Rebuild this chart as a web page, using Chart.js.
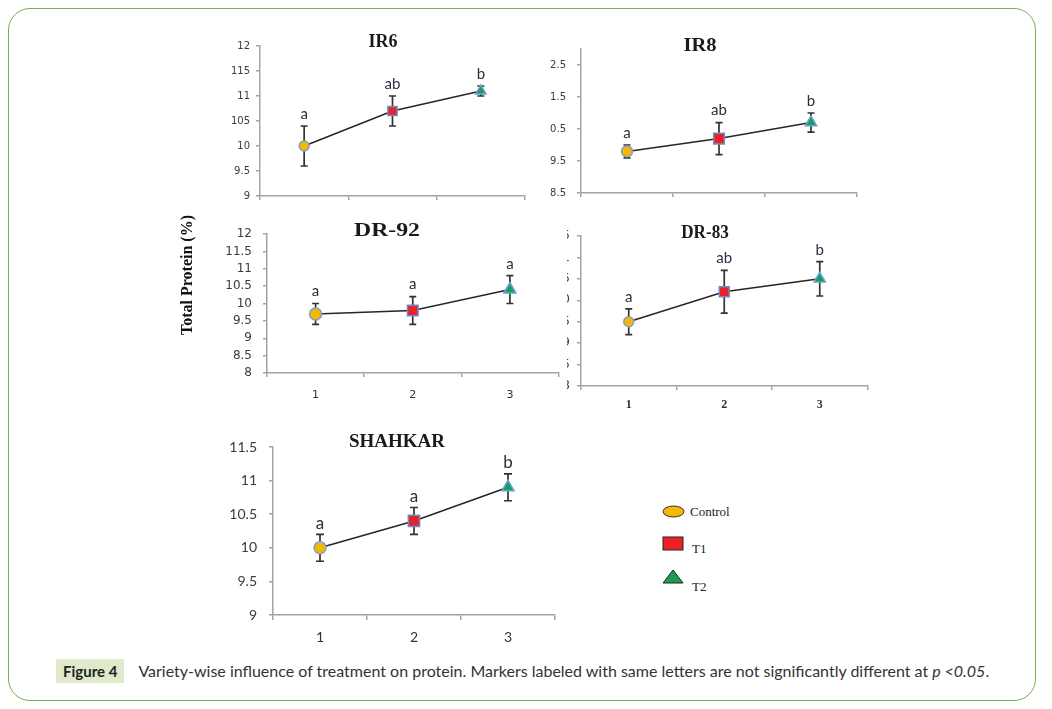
<!DOCTYPE html>
<html>
<head>
<meta charset="utf-8">
<script src="https://cdn.jsdelivr.net/npm/chart.js@4.4.1/dist/chart.umd.min.js"></script>
<style>
  body { margin: 0; background: #fff; width: 1052px; height: 709px; position: relative; overflow: hidden; }
  .frame { position: absolute; left: 8px; top: 8px; width: 1028px; height: 693px; box-sizing: border-box;
           border: 1.5px solid #79b04a; border-radius: 22px; }
  canvas { position: absolute; }
  #dr83wrap { position: absolute; left: 567px; top: 215px; width: 313px; height: 205px; overflow: hidden; }
  #legend { position: absolute; left: 655px; top: 495px; }
  .caption { position: absolute; left: 56px; top: 659px; height: 24px; line-height: 24px; white-space: nowrap;
             font-family: Lato, "Open Sans", sans-serif; font-size: 16px; color: #333; }
  .caption b { display: inline-block; background: #dfeacb; padding: 0 7px; margin-right: 14px; color: #222; font-size: 15px; }
</style>
</head>
<body>
<div class="frame"></div>
<canvas id="ir6" width="340" height="190" style="left:200px;top:20px"></canvas>
<canvas id="ir8" width="345" height="190" style="left:521px;top:20px"></canvas>
<canvas id="dr92" width="397" height="200" style="left:170px;top:210px"></canvas>
<div id="dr83wrap"><canvas id="dr83" width="360" height="205" style="left:-47px;top:0px"></canvas></div>
<canvas id="shahkar" width="360" height="225" style="left:205px;top:425px"></canvas>

<svg id="legend" width="110" height="105">
  <ellipse cx="18.5" cy="16.5" rx="10.5" ry="5.5" fill="#f5b800" stroke="#333" stroke-width="1"/>
  <text x="35" y="21" font-family="Liberation Serif, serif" font-size="13" fill="#222">Control</text>
  <rect x="8" y="42" width="20" height="13" fill="#ec2128" stroke="#222" stroke-width="1"/>
  <text x="37" y="58" font-family="Liberation Serif, serif" font-size="13" fill="#222">T1</text>
  <polygon points="18,75 28,88 8,88" fill="#1c9e4e" stroke="#222" stroke-width="1"/>
  <text x="37" y="96" font-family="Liberation Serif, serif" font-size="13" fill="#222">T2</text>
</svg>

<div class="caption"><b>Figure 4</b>Variety-wise influence of treatment on protein. Markers labeled with same letters are not significantly different at <i>p &lt;0.05</i>.</div>

<script>
// categories on the x axis (Control, T1, T2)
const categories = ['1', '2', '3'];

// IR6
const ir6Means = [10.0, 10.7, 11.1];
const ir6Errors = [0.4, 0.3, 0.1];
const ir6Letters = ['a', 'ab', 'b'];
const ir6TickValues = [9, 9.5, 10, 10.5, 11, 11.5, 12];
const ir6TickLabels = ['9', '9.5', '10', '105', '11', '115', '12'];

// IR8
const ir8Means = [9.8, 10.2, 10.7];
const ir8Errors = [0.2, 0.5, 0.3];
const ir8Letters = ['a', 'ab', 'b'];
const ir8TickValues = [8.5, 9.5, 10.5, 11.5, 12.5];
const ir8TickLabels = ['8.5', '9.5', '0.5', '1.5', '2.5'];

// DR-92
const dr92Means = [9.7, 9.8, 10.4];
const dr92Errors = [0.3, 0.4, 0.4];
const dr92Letters = ['a', 'a', 'a'];
const dr92TickValues = [8, 8.5, 9, 9.5, 10, 10.5, 11, 11.5, 12];
const dr92TickLabels = ['8', '8.5', '9', '9.5', '10', '10.5', '11', '11.5', '12'];

// DR-83
const dr83Means = [9.5, 10.2, 10.5];
const dr83Errors = [0.3, 0.5, 0.4];
const dr83Letters = ['a', 'ab', 'b'];
const dr83TickValues = [8, 8.5, 9, 9.5, 10, 10.5, 11, 11.5];
const dr83TickLabels = ['8', '8.5', '9', '9.5', '10', '10.5', '11', '11.5'];

// SHAHKAR
const shahkarMeans = [10.0, 10.4, 10.9];
const shahkarErrors = [0.2, 0.2, 0.2];
const shahkarLetters = ['a', 'a', 'b'];
const shahkarTickValues = [9, 9.5, 10, 10.5, 11, 11.5];
const shahkarTickLabels = ['9', '9.5', '10', '10.5', '11', '11.5'];

const axisColor = '#a3a3a3';
const markerStyles = ['circle', 'rect', 'triangle'];
const markerFills = ['#f5b800', '#e8212b', '#12a05a'];
const markerBorders = ['#7f9fcc', '#6f8cc4', '#6d9fd0'];

// error bars, significance letters and the panel titles
const panelExtras = {
  id: 'panelExtras',
  beforeDatasetsDraw(chart, args, opts) {
    const ds = chart.data.datasets[0];
    const meta = chart.getDatasetMeta(0);
    const y = chart.scales.y;
    const ctx = chart.ctx;
    ctx.save();
    ctx.strokeStyle = '#333';
    ctx.lineWidth = 1.7;
    ds.data.forEach((m, i) => {
      const px = meta.data[i].x;
      const top = y.getPixelForValue(m + ds.errors[i]);
      const bot = y.getPixelForValue(m - ds.errors[i]);
      const c = opts.capW / 2;
      ctx.beginPath();
      ctx.moveTo(px, top); ctx.lineTo(px, bot);
      ctx.moveTo(px - c, top); ctx.lineTo(px + c, top);
      ctx.moveTo(px - c, bot); ctx.lineTo(px + c, bot);
      ctx.stroke();
    });
    ctx.restore();
  },
  afterDatasetsDraw(chart, args, opts) {
    const ds = chart.data.datasets[0];
    const meta = chart.getDatasetMeta(0);
    const y = chart.scales.y;
    const ctx = chart.ctx;
    ctx.save();
    ctx.fillStyle = '#283040';
    ctx.font = opts.letterFont;
    ctx.textAlign = 'center';
    ctx.textBaseline = 'middle';
    ds.letters.forEach((t, i) => {
      const top = y.getPixelForValue(ds.data[i] + ds.errors[i]);
      ctx.fillText(t, meta.data[i].x, top - opts.letterGap);
    });
    // title
    ctx.fillStyle = '#1a1a1a';
    ctx.font = opts.titleFont;
    ctx.translate(opts.titleX, opts.titleY);
    ctx.scale(opts.titleStretch, 1);
    ctx.fillText(ds.label, 0, 0);
    ctx.restore();
    if (opts.sideTitle) {
      ctx.save();
      ctx.fillStyle = '#111';
      ctx.font = 'bold 16px "Liberation Serif", serif';
      ctx.textAlign = 'center';
      ctx.textBaseline = 'middle';
      ctx.translate(opts.sideX, opts.sideY);
      ctx.rotate(-Math.PI / 2);
      ctx.fillText(opts.sideTitle, 0, 0);
      ctx.restore();
    }
  }
};

function makePanel(id, p) {
  return new Chart(document.getElementById(id), {
    type: 'line',
    data: {
      labels: categories,
      datasets: [{
        label: p.title,
        data: p.means,
        errors: p.errors,
        letters: p.letters,
        borderColor: '#262626',
        borderWidth: 1.5,
        tension: 0,
        pointStyle: markerStyles,
        pointBackgroundColor: markerFills,
        pointBorderColor: markerBorders,
        pointBorderWidth: 1.5,
        pointRadius: p.radii,
        pointHoverRadius: p.radii
      }]
    },
    options: {
      responsive: false,
      animation: false,
      events: [],
      layout: { padding: { top: p.padTop, right: p.padRight, left: 0, bottom: 0 } },
      plugins: {
        legend: { display: false },
        tooltip: { enabled: false },
        panelExtras: {
          capW: p.capW,
          letterFont: p.letterFont,
          letterGap: p.letterGap,
          titleFont: p.titleFont,
          titleX: p.titleX,
          titleY: p.titleY,
          titleStretch: p.titleStretch || 1,
          sideTitle: p.sideTitle || '',
          sideX: p.sideX || 0,
          sideY: p.sideY || 0
        }
      },
      scales: {
        x: {
          offset: true,
          grid: { offset: true, drawOnChartArea: false, drawTicks: true, tickLength: p.tickLen || 4, color: axisColor, lineWidth: 1.5 },
          border: { color: axisColor, width: 1.5 },
          ticks: { display: p.showX, padding: p.xPad || 0, font: p.xFont, color: '#333' },
          afterFit: s => { s.height = p.xAxisH; }
        },
        y: {
          min: p.yMin,
          max: p.yMax,
          grid: { drawOnChartArea: false, drawTicks: true, tickLength: 4, color: axisColor, lineWidth: 1.5 },
          border: { color: axisColor, width: 1.5 },
          afterBuildTicks: s => { s.ticks = p.tickValues.map(v => ({ value: v })); },
          ticks: {
            autoSkip: false,
            padding: p.yPad,
            font: p.yFont,
            color: '#3b3b3b',
            callback: v => p.tickLabels[p.tickValues.indexOf(v)]
          },
          afterFit: s => { s.width = p.yAxisW; }
        }
      }
    },
    plugins: [panelExtras]
  });
}

const smallTick = { family: '"DejaVu Sans", sans-serif', size: 10 };

makePanel('ir6', {
  title: 'IR6', means: ir6Means, errors: ir6Errors, letters: ir6Letters,
  tickValues: ir6TickValues, tickLabels: ir6TickLabels, yMin: 9, yMax: 12,
  padTop: 26, padRight: 15, yAxisW: 60, xAxisH: 14, yPad: 6, yFont: smallTick, showX: false,
  radii: [5, 6.5, 6], capW: 7, letterFont: '15px Lato, sans-serif', letterGap: 12,
  titleFont: 'bold 18px "Liberation Serif", serif', titleX: 183, titleY: 22
});

makePanel('ir8', {
  title: 'IR8', means: ir8Means, errors: ir8Errors, letters: ir8Letters,
  tickValues: ir8TickValues, tickLabels: ir8TickLabels, yMin: 8.5, yMax: 13,
  padTop: 29, padRight: 9, yAxisW: 60, xAxisH: 14, yPad: 11, yFont: smallTick, showX: false,
  radii: [5.5, 7.5, 6.5], capW: 7, letterFont: '15px Lato, sans-serif', letterGap: 12,
  titleFont: 'bold 18px "Liberation Serif", serif', titleX: 179, titleY: 26, titleStretch: 1.14
});

makePanel('dr92', {
  title: 'DR-92', means: dr92Means, errors: dr92Errors, letters: dr92Letters,
  tickValues: dr92TickValues, tickLabels: dr92TickLabels, yMin: 8, yMax: 12,
  padTop: 24, padRight: 2, yAxisW: 97, xAxisH: 37, yPad: 11,
  yFont: { family: '"DejaVu Sans", sans-serif', size: 12 },
  showX: true, xPad: 12, xFont: { family: '"DejaVu Sans", sans-serif', size: 11 },
  radii: [6, 7.5, 7], capW: 7, letterFont: '15px Lato, sans-serif', letterGap: 12,
  titleFont: 'bold 19px "Liberation Serif", serif', titleX: 217, titleY: 21, titleStretch: 1.25,
  sideTitle: 'Total Protein (%)', sideX: 18, sideY: 65
});

makePanel('dr83', {
  title: 'DR-83', means: dr83Means, errors: dr83Errors, letters: dr83Letters,
  tickValues: dr83TickValues, tickLabels: dr83TickLabels, yMin: 8, yMax: 11.5,
  padTop: 21, padRight: 12.5, yAxisW: 61, xAxisH: 34, yPad: 7,
  yFont: { family: '"DejaVu Sans", sans-serif', size: 12 },
  showX: true, xPad: 8, xFont: { family: '"Liberation Serif", serif', size: 12, weight: 'bold' },
  radii: [5, 7, 6.5], capW: 7, letterFont: '15px Lato, sans-serif', letterGap: 12,
  titleFont: 'bold 19px "Liberation Serif", serif', titleX: 185, titleY: 18, titleStretch: 0.9
});

makePanel('shahkar', {
  title: 'SHAHKAR', means: shahkarMeans, errors: shahkarErrors, letters: shahkarLetters,
  tickValues: shahkarTickValues, tickLabels: shahkarTickLabels, yMin: 9, yMax: 11.5,
  padTop: 22, padRight: 10, yAxisW: 68, xAxisH: 35, yPad: 12,
  yFont: { family: 'Lato, sans-serif', size: 14 },
  showX: true, xPad: 9, tickLen: 5, xFont: { family: 'Lato, sans-serif', size: 14 },
  radii: [6, 8, 7], capW: 8, letterFont: '17px Lato, sans-serif', letterGap: 11,
  titleFont: 'bold 19px "Liberation Serif", serif', titleX: 192, titleY: 17
});
</script>
</body>
</html>
